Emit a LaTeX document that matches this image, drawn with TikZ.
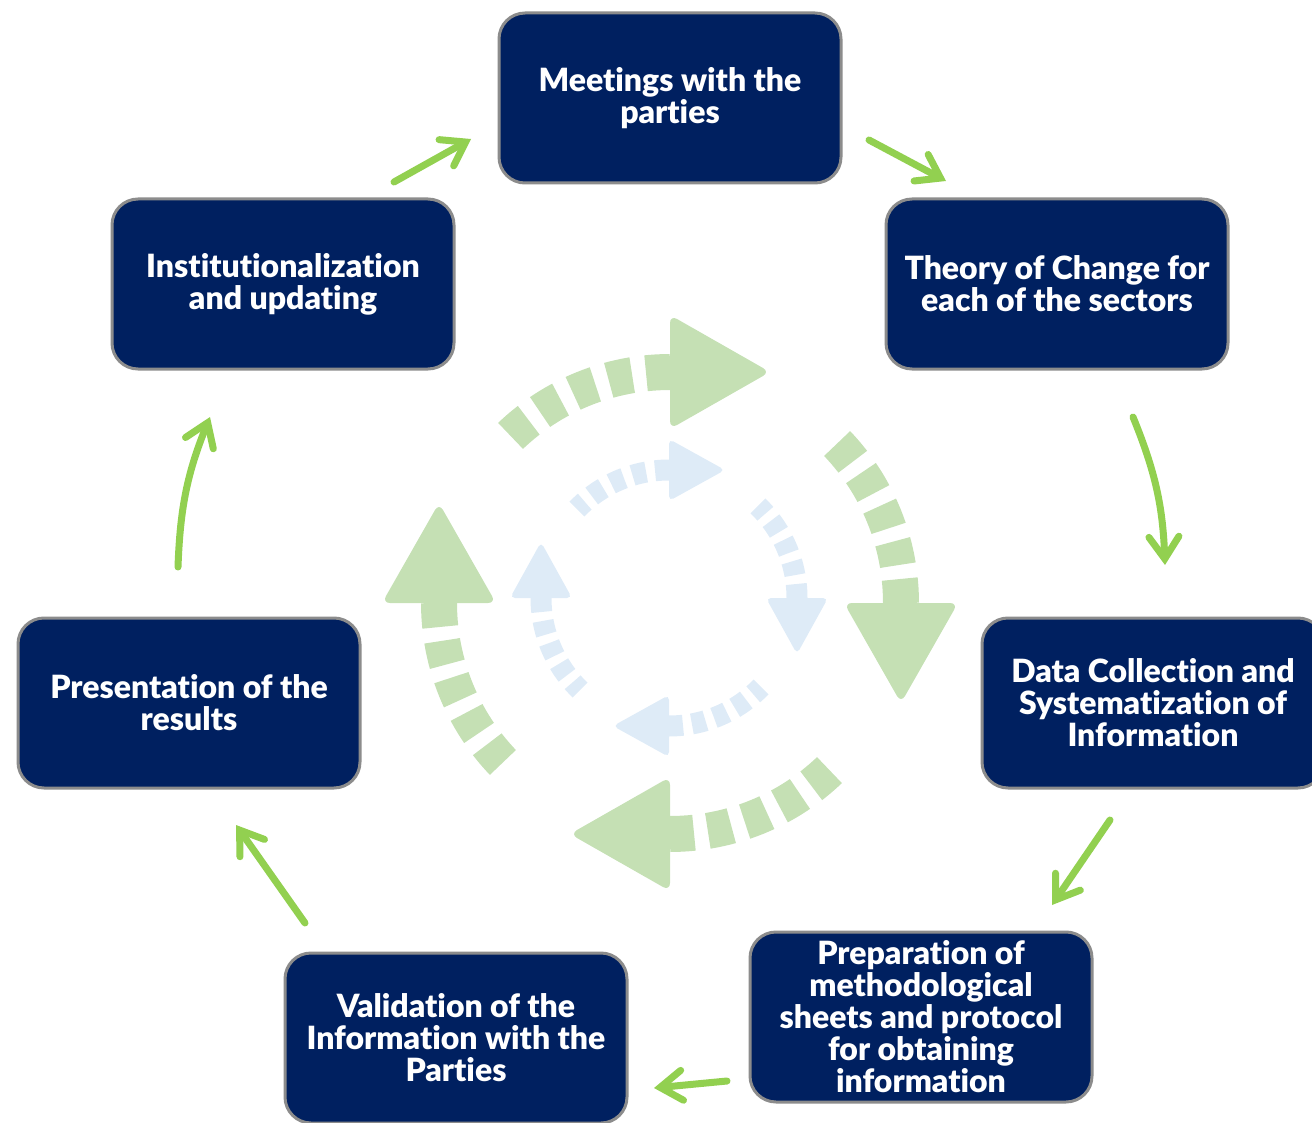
\documentclass[tikz,border=0pt]{standalone}
\usepackage{fontspec}
\setmainfont{Lato}[BoldFont={Lato Black}, Ligatures=NoCommon]
\usetikzlibrary{arrows.meta,calc}

\definecolor{stagefill}{RGB}{0,32,96}
\definecolor{stageborder}{RGB}{140,140,140}
\definecolor{flowgreen}{RGB}{146,208,80}
\definecolor{ringgreen}{RGB}{197,224,180}
\definecolor{ringblue}{RGB}{222,235,247}

\tikzset{
  stage/.style={draw=stageborder, line width=1.5pt, fill=stagefill,
    rounded corners=13pt, minimum width=171pt, minimum height=85pt,
    outer sep=0pt, inner sep=0pt, text=white, align=center,
    font=\bfseries\fontsize{16}{16}\selectfont},
  flow/.style={draw=flowgreen, line width=3.5pt, line cap=round,
    -{Straight Barb[length=11pt,width=15pt,line cap=round]}},
}

\begin{document}
\begin{tikzpicture}[x=0.5pt,y=-0.5pt]
    \useasboundingbox (0,0) rectangle (1312,1123);
    \clip (0,0) rectangle (1312,1123);

    % centre: two dashed rings with arrowheads
    \foreach \b in {0,90,180,270} {
        \draw[ringgreen, line width=18pt, dash pattern=on 12pt off 7pt]
            plot[domain=\b:\b-46, samples=30] ({670+231*cos(\x)},{603+231*sin(\x)});
        \fill[ringgreen, rounded corners=4pt]
            ({670+174*cos(\b)},{603+174*sin(\b)}) -- ({670+288*cos(\b)},{603+288*sin(\b)})
            -- ({670+231*cos(\b)-100*sin(\b)},{603+231*sin(\b)+100*cos(\b)}) -- cycle;
        \draw[ringblue, line width=10.5pt, dash pattern=on 7pt off 4.5pt]
            plot[domain=\b:\b-46, samples=30] ({669+128*cos(\x)},{598+128*sin(\x)});
        \fill[ringblue, rounded corners=2.5pt]
            ({669+97*cos(\b)},{598+97*sin(\b)}) -- ({669+159*cos(\b)},{598+159*sin(\b)})
            -- ({669+128*cos(\b)-56*sin(\b)},{598+128*sin(\b)+56*cos(\b)}) -- cycle;
    }

    \path (670,98) node (meet) [stage] {Meetings with the\\parties};
    \path (1057,284) node (theory) [stage] {Theory of Change for\\each of the sectors};
    \path (1153,703) node (data) [stage] {Data Collection and\\Systematization of\\Information};
    \path (921,1017) node (prep) [stage] {Preparation of\\methodological\\sheets and protocol\\for obtaining\\information};
    \path (456,1038) node (valid) [stage] {Validation of the\\Information with the\\Parties};
    \path (189,703) node (present) [stage] {Presentation of the\\results};
    \path (283,284) node (inst) [stage] {Institutionalization\\and updating};

    \draw[flow] ([shift={(-60,-17)}]inst.north east) -- ([shift={(-28,41)}]meet.west);
    \draw[flow] ([shift={(28,42)}]meet.east) -- ([shift={(60,-18)}]theory.north west);
    \draw[flow] ([shift={(76,48)}]theory.south) to[bend left=10] ([shift={(12,-53)}]data.north);
    \draw[flow] ([shift={(-43,32)}]data.south) -- ([shift={(-40,-27)}]prep.north east);
    \draw[flow] ([shift={(-23,-21)}]prep.south west) -- ([shift={(27,50)}]valid.east);
    \draw[flow] ([shift={(20,-30)}]valid.north west) -- ([shift={(47,37)}]present.south);
    \draw[flow] ([shift={(-11,-51)}]present.north) to[bend left=10] ([shift={(-73,48)}]inst.south);
\end{tikzpicture}
\end{document}
